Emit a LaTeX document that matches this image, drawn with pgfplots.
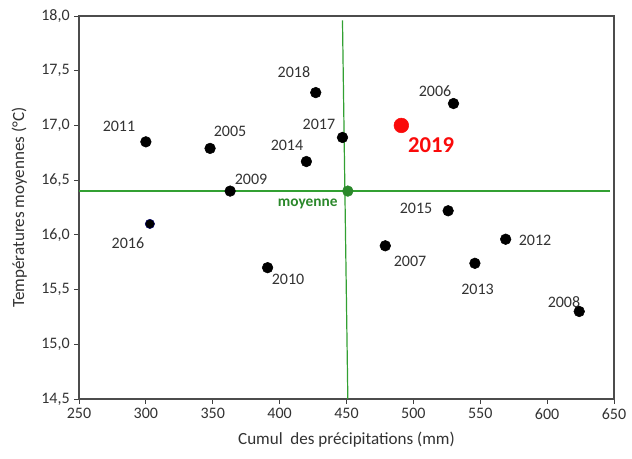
\documentclass[border=0pt]{standalone}
\usepackage{pgfplots}
\pgfplotsset{compat=1.18}
\usepackage{fontspec}
\setmainfont{Carlito}
\definecolor{mgreen}{RGB}{50,160,50}
\definecolor{mred}{RGB}{250,10,10}
\definecolor{tgray}{RGB}{50,50,50}
\begin{document}
\begin{tikzpicture}[x=1pt,y=1pt]
\useasboundingbox (-59.25,-45) rectangle (414.75,299.25);
\begin{axis}[
  scale only axis,
  width=401.25pt, height=287.25pt,
  at={(0,0)}, anchor=south west,
  xmin=250, xmax=650, ymin=14.5, ymax=18,
  xtick={250,300,...,650},
  ytick={14.5,15,...,18},
  tick align=outside,
  xtick pos=bottom, ytick pos=left,
  major tick length=3.5pt,
  tick style={black!75, line width=0.6pt},
  axis line style={black!70, line width=0.9pt},
  /pgf/number format/assume math mode=true,
  ticklabel style={font=\fontsize{12}{14}\selectfont, text=tgray},
  x tick label style={/pgf/number format/1000 sep={}},
  y tick label style={/pgf/number format/.cd, fixed, fixed zerofill, precision=1, use comma},
  xlabel={Cumul\ \ des précipitations (mm)},
  ylabel={Températures moyennes (°C)},
  label style={font=\fontsize{12.8}{15}\selectfont, text=tgray},
  xlabel style={yshift=-3pt},
  ylabel style={yshift=4pt},
  clip=false,
]
% mean lines
\addplot[mgreen, line width=0.9pt] coordinates {(250,16.40) (647,16.40)};
\addplot[mgreen, line width=0.9pt] coordinates {(447,17.96) (451,14.5)};
% years
\addplot[only marks, mark=*, mark size=4pt, black] coordinates {
(300,16.85) (348,16.79) (363,16.40) (391,15.70) (427,17.30) (420,16.67)
(447,16.89) (530,17.20) (526,16.22) (479,15.90) (569,15.96) (546,15.74) (624,15.30)
};
\addplot[only marks, mark=*, mark size=3.5pt, black, mark options={draw=blue!40!black}] coordinates {(303,16.10)};
\addplot[only marks, mark=*, mark size=4pt, mgreen!85!black] coordinates {(451,16.40)};
\addplot[only marks, mark=*, mark size=5.5pt, mred] coordinates {(491,17.00)};
\begin{scope}[every node/.style={font=\fontsize{12}{14}\selectfont, text=tgray}]
\node at (axis cs:279.9,16.995) {2011};
\node at (axis cs:362.9,16.95) {2005};
\node at (axis cs:410.7,17.49) {2018};
\node at (axis cs:429.4,17.01) {2017};
\node at (axis cs:405.5,16.82) {2014};
\node at (axis cs:378.6,16.51) {2009};
\node at (axis cs:286.6,15.92) {2016};
\node at (axis cs:406.3,15.59) {2010};
\node at (axis cs:516.2,17.31) {2006};
\node at (axis cs:502,16.24) {2015};
\node at (axis cs:497.5,15.76) {2007};
\node at (axis cs:591,15.95) {2012};
\node at (axis cs:548,15.50) {2013};
\node at (axis cs:612.6,15.39) {2008};
\end{scope}
\node[font=\bfseries\fontsize{17}{19}\selectfont, text=mred] at (axis cs:513.2,16.82) {2019};
\node[font=\bfseries\fontsize{11.5}{13}\selectfont, text=mgreen!85!black] at (axis cs:421,16.28) {moyenne};
\end{axis}
\end{tikzpicture}
\end{document}
